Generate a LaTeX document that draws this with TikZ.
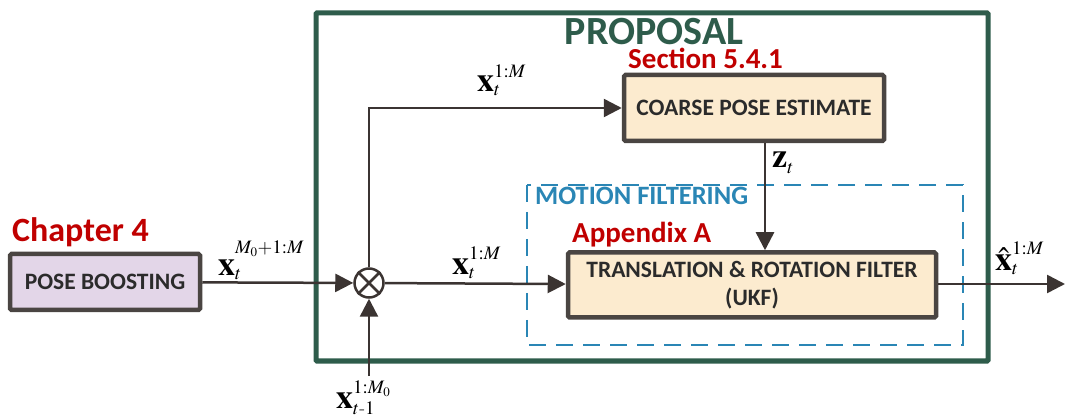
\documentclass[tikz,border=0pt]{standalone}
\usepackage{mathptmx}
\usepackage[no-math]{fontspec}
\setmainfont{Carlito}
\usetikzlibrary{arrows.meta}
\DeclareMathSizes{34}{34}{19}{13}
\definecolor{propgreen}{HTML}{2E5C4B}
\definecolor{secred}{HTML}{C00000}
\definecolor{filtblue}{HTML}{2A86B5}
\definecolor{boxline}{HTML}{4A4542}
\definecolor{arrline}{HTML}{3B3432}
\definecolor{coarsefill}{HTML}{FCEBCF}
\definecolor{posefill}{HTML}{E3D6E8}
\definecolor{txt}{HTML}{2B2B2B}
\newcommand{\xlbl}[5]{$#1_{\raisebox{#5}{$\scriptstyle #3$}}^{\raisebox{#4}{$\scriptstyle #2$}}$}
\newcommand{\hy}{\mbox{\fontfamily{ptm}\fontshape{it}\fontsize{19}{19}\selectfont -}}
\begin{document}
\begin{tikzpicture}[x=1pt,y=-1pt,
	blk/.style={draw=boxline,line width=4.5pt,rounded corners=1.5pt,text=txt,align=center,
		font=\bfseries\fontsize{23.5}{28}\selectfont},
	arr/.style={draw=arrline,line width=2.5pt,-{Triangle[length=18pt,width=18pt]}},
	lbl/.style={anchor=base west,inner sep=0pt,font=\fontsize{34}{34}\selectfont},
	ttl/.style={anchor=base west,inner sep=0pt,font=\bfseries}]
	\useasboundingbox (0,0) rectangle (1065,419);
	% frames
	\draw[propgreen,line width=5pt,rounded corners=1pt](316,13)rectangle(988,361);
	\draw[filtblue,line width=2.5pt,dash pattern=on 17pt off 10pt](527,185)rectangle(963,345);
	\node[ttl,anchor=base,text=propgreen,font=\bfseries\fontsize{40}{40}\selectfont] (prop) at (654,45) {PROPOSAL};
	\node[ttl,text=filtblue,font=\bfseries\fontsize{26.5}{26.5}\selectfont] (motion) at (535,205) {MOTION FILTERING};
	% blocks
	\node[blk,fill=posefill,minimum width=190pt,minimum height=56pt] (pose) at (105,282) {POSE BOOSTING};
	\node[blk,fill=coarsefill,minimum width=260pt,minimum height=66pt] (coarse) at (754,108) {COARSE POSE ESTIMATE};
	\node[blk,fill=coarsefill,minimum width=368pt,minimum height=65pt] (filter) at (752,285) {TRANSLATION \& ROTATION FILTER\\(UKF)};
	\node[draw=arrline,line width=2.5pt,circle,minimum size=29pt,inner sep=0pt] (circ) at (369,283) {};
	\draw[arrline,line width=2.5pt](circ.north west)--(circ.south east)(circ.north east)--(circ.south west);
	% references
	\node[ttl,text=secred,font=\bfseries\fontsize{34}{34}\selectfont] (chap) at (12,242) {Chapter 4};
	\node[ttl,text=secred,font=\bfseries\fontsize{29}{29}\selectfont] (sec) at (628,69) {Section 5.4.1};
	\node[ttl,text=secred,font=\bfseries\fontsize{29}{29}\selectfont] (app) at (572,243) {Appendix A};
	% connectors
	\coordinate (zline) at (765,0);
	\coordinate (bot) at (369,376);
	\coordinate (out) at (1065,284);
	\draw[arr](pose)--(circ);
	\draw[arr](circ)--(filter);
	\draw[arr](circ.north)|-(coarse.west);
	\draw[arr](coarse.south-|zline)--(filter.north-|zline);
	\draw[arr](bot)--(circ.south);
	\draw[arr](filter.east|-out)--(out);
	% signals
	\node[lbl] (xin) at (218,276) {\xlbl{\mathbf{x}}{M_0+1:M}{t}{10pt}{5pt}};
	\node[lbl] (xtop) at (477,92) {\xlbl{\mathbf{x}}{1:M}{t}{2pt}{5pt}};
	\node[lbl] (xmid) at (452,275) {\xlbl{\mathbf{x}}{1:M}{t}{3pt}{5pt}};
	\node[lbl] (zt) at (772,168) {$\mathbf{z}_t$};
	\node[lbl] (xhat) at (995,271) {\xlbl{\hat{\mathbf{x}}}{1:M}{t}{4pt}{5pt}};
	\node[lbl] (xprev) at (336,408) {\xlbl{\mathbf{x}}{1:M_0}{t\hy 1}{1pt}{6pt}};
\end{tikzpicture}
\end{document}
